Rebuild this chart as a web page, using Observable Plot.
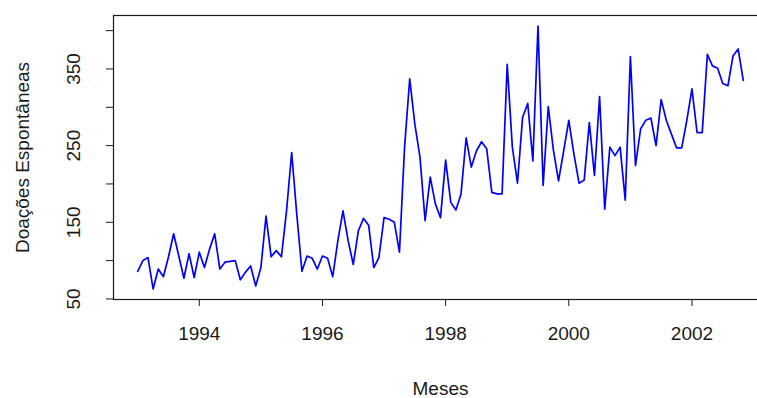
<!DOCTYPE html>
<html>
<head>
<meta charset="utf-8">
<script src="https://cdn.jsdelivr.net/npm/d3@7"></script>
<script src="https://cdn.jsdelivr.net/npm/@observablehq/plot@0.6"></script>
<style>
  html, body { margin: 0; padding: 0; background: #ffffff; }
  #chart svg { display: block; }
</style>
</head>
<body>
<div id="chart"></div>
<script>
// Monthly series (ts, start = Jan 1993, frequency = 12)
const startYear = 1993;
const frequency = 12;
const doacoes = [
  86, 100, 104, 63, 89, 79, 105, 135, 106, 77, 109, 78,
  111, 91, 115, 135, 89, 98, 99, 100, 75, 85, 93, 67,
  91, 158, 105, 113, 105, 165, 241, 160, 86, 106, 103, 89,
  106, 103, 79, 126, 165, 126, 95, 139, 155, 146, 91, 104,
  156, 154, 150, 111, 248, 337, 278, 235, 152, 209, 174, 156,
  231, 176, 166, 187, 260, 222, 243, 255, 246, 189, 187, 187,
  356, 248, 201, 287, 305, 230, 406, 198, 301, 244, 204, 243,
  283, 239, 201, 205, 280, 211, 314, 167, 248, 237, 248, 179,
  366, 224, 272, 283, 286, 250, 310, 283, 265, 247, 247, 283,
  324, 267, 267, 369, 354, 351, 331, 328, 367, 376, 335
];
const xTicks = [1994, 1996, 1998, 2000, 2002];
const yTicks = [50, 100, 150, 200, 250, 300, 350, 400];
const yTickLabels = [50, 150, 250, 350];
const xTitle = "Meses";
const yTitle = "Doações Espontâneas";

const series = doacoes.map((v, i) => ({t: startYear + i / frequency, v}));

// R-style 4% axis extension
const pad = (ext) => { const r = ext[1] - ext[0]; return [ext[0] - 0.04 * r, ext[1] + 0.04 * r]; };
const xDomain = pad(d3.extent(series, d => d.t));
const yDomain = pad(d3.extent(series, d => d.v));

const fontFamily = "'Liberation Sans', Arial, Helvetica, sans-serif";
const textColor = "#1a1a1a";

const chart = Plot.plot({
  width: 757,
  height: 398,
  marginLeft: 113,
  marginRight: -10,
  marginTop: 15,
  marginBottom: 99,
  style: {fontFamily, fontSize: "19px", color: textColor, background: "#ffffff", overflow: "hidden"},
  x: {domain: xDomain, range: [113, 767]},
  y: {domain: yDomain, range: [299, 15]},
  marks: [
    Plot.axisX({ticks: xTicks, tickSize: 7, tickFormat: () => "", label: null, stroke: "#1a1a1a"}),
    Plot.axisY({ticks: yTicks, tickSize: 7, tickFormat: () => "", label: null, stroke: "#1a1a1a"}),
    Plot.text(xTicks, {x: d => d, text: d => String(d), frameAnchor: "bottom", dy: 34, lineAnchor: "middle", textAnchor: "middle", fontSize: 19, fill: textColor}),
    Plot.text(yTickLabels, {y: d => d, text: d => String(d), frameAnchor: "left", dx: -40, rotate: -90, lineAnchor: "middle", textAnchor: "middle", fontSize: 19, fill: textColor}),
    Plot.text([xTitle], {text: d => d, frameAnchor: "bottom", dy: 89, lineAnchor: "middle", textAnchor: "middle", fontSize: 19, fill: textColor}),
    Plot.text([yTitle], {text: d => d, frameAnchor: "left", dx: -91, rotate: -90, lineAnchor: "middle", textAnchor: "middle", fontSize: 19, fill: textColor}),
    Plot.line(series, {x: "t", y: "v", stroke: "#0000ff", strokeWidth: 1.7}),
    Plot.frame({stroke: "#1a1a1a", strokeWidth: 1.2})
  ]
});
document.getElementById("chart").appendChild(chart);
</script>
</body>
</html>
